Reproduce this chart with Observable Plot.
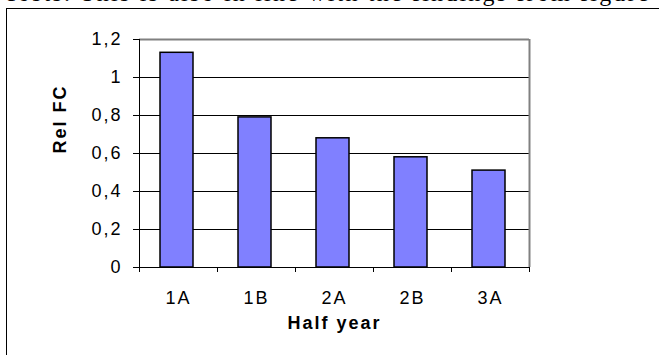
<!DOCTYPE html>
<html>
<head>
<meta charset="utf-8">
<script src="https://cdn.jsdelivr.net/npm/d3@7"></script>
<script src="https://cdn.jsdelivr.net/npm/@observablehq/plot@0.6"></script>
<style>
  html, body { margin: 0; padding: 0; background: #fff; }
  #wrap { position: relative; width: 659px; height: 355px; overflow: hidden; background: #fff; }
  #prose { position: absolute; left: 5px; top: -19px; white-space: nowrap; font-family: "Liberation Serif", "Times New Roman", serif; font-size: 24px; line-height: 24px; letter-spacing: 2.2px; color: #000; }
  #frame { position: absolute; left: 6px; top: 8px; width: 800px; height: 500px; border: 1px solid #000; box-sizing: border-box; }
  #chart { position: absolute; left: 0; top: 0; }
  #chart svg text { letter-spacing: 2px; }
</style>
</head>
<body>
<div id="wrap">
  <div id="prose">costs. This is also in line with the findings from figure</div>
  <div id="frame"></div>
  <div id="chart"></div>
</div>
<script>
const categories = ["1A", "1B", "2A", "2B", "3A"];
const values = [1.13, 0.79, 0.68, 0.58, 0.51];
const yTicks = [0, 0.2, 0.4, 0.6, 0.8, 1.0, 1.2];
const gridTicks = [0.2, 0.4, 0.6, 0.8, 1.0];
const xTitle = "Half year";
const yTitle = "Rel FC";

const data = categories.map((c, i) => ({category: c, index: i, value: values[i]}));
const fmt = v => String(+v.toFixed(1)).replace(".", ",");

const chart = Plot.plot({
  width: 659,
  height: 355,
  marginLeft: 139,
  marginRight: 130,
  marginTop: 39,
  marginBottom: 88,
  style: {fontFamily: "'Liberation Sans', Arial, sans-serif", fontSize: "18px", color: "#000", background: "transparent"},
  x: {type: "linear", domain: [0, categories.length], axis: null},
  y: {domain: [0, 1.2], axis: null},
  marks: [
    Plot.gridY(gridTicks, {stroke: "#000", strokeOpacity: 1, strokeWidth: 1}),
    Plot.ruleY([1.2], {stroke: "#808080", strokeWidth: 2}),
    Plot.ruleX([categories.length], {stroke: "#808080", strokeWidth: 2}),
    Plot.rectY(data, {x1: d => d.index, x2: d => d.index + 1, y: "value", insetLeft: 21, insetRight: 24, fill: "#8080FF", stroke: "#000", strokeWidth: 1.5}),
    Plot.ruleX([0], {stroke: "#000", strokeWidth: 1}),
    Plot.ruleY([0], {stroke: "#000", strokeWidth: 1}),
    Plot.axisY(yTicks, {tickSize: 6, tickPadding: 11, tickFormat: fmt, stroke: "#000", strokeOpacity: 1, label: null}),
    Plot.axisX(d3.range(categories.length + 1), {tickSize: 5, tickFormat: () => "", stroke: "#000", strokeOpacity: 1, label: null}),
    Plot.axisX(categories.map((c, i) => i + 0.5), {tickSize: 0, tickPadding: 24, tickFormat: v => categories[Math.floor(v)], label: null}),
    Plot.text([xTitle], {frameAnchor: "bottom", dy: 61, fontWeight: "bold", fontSize: 18}),
    Plot.text([yTitle], {frameAnchor: "left", dx: -79, rotate: -90, fontWeight: "bold", fontSize: 18})
  ]
});
document.getElementById("chart").appendChild(chart);
</script>
</body>
</html>
